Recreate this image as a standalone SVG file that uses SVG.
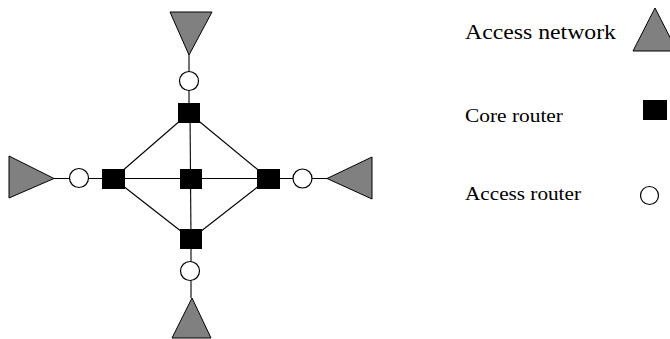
<svg xmlns="http://www.w3.org/2000/svg" width="670" height="339" viewBox="0 0 670 339">
<style>
.net{fill:#808080;stroke:#000;stroke-width:1}
.core{fill:#000;stroke:#000;stroke-width:1}
.acc{fill:#fff;stroke:#000;stroke-width:1.2}
.link{stroke:#000;stroke-width:1.1;fill:none}
.lbl{font-family:"Liberation Serif","Times New Roman",serif;fill:#000}
</style>
<rect width="670" height="339" fill="#fff"/>
<g id="connectors">
<line class="link" x1="189" y1="55" x2="189" y2="113"/>
<line class="link" x1="191" y1="239" x2="191" y2="298"/>
<line class="link" x1="54" y1="178.5" x2="327" y2="178.5"/>
<line class="link" x1="190" y1="113" x2="191" y2="239"/>
<line class="link" x1="189" y1="113" x2="113.5" y2="178.5"/>
<line class="link" x1="189" y1="113" x2="268.5" y2="178.5"/>
<line class="link" x1="191" y1="239" x2="113.5" y2="178.5"/>
<line class="link" x1="191" y1="239" x2="268.5" y2="178.5"/>
</g>
<g id="net-top"><polygon class="net" points="170,12 212,12 189,55"/></g>
<g id="net-bottom"><polygon class="net" points="172,338 211,338 192,298"/></g>
<g id="net-left"><polygon class="net" points="9,156 9,198 54,178.5"/></g>
<g id="net-right"><polygon class="net" points="372,157 372,199 327,178.5"/></g>
<g id="ar-top"><circle class="acc" cx="189" cy="81" r="9.5"/></g>
<g id="ar-bottom"><circle class="acc" cx="190" cy="271" r="9.5"/></g>
<g id="ar-left"><circle class="acc" cx="79" cy="178" r="9.5"/></g>
<g id="ar-right"><circle class="acc" cx="302.5" cy="178.5" r="9.5"/></g>
<g id="cr-top"><rect class="core" x="178.5" y="103.5" width="21" height="19"/></g>
<g id="cr-left"><rect class="core" x="102.5" y="169.5" width="22" height="19"/></g>
<g id="cr-center"><rect class="core" x="180.5" y="169.5" width="21" height="19"/></g>
<g id="cr-right"><rect class="core" x="257.5" y="169.5" width="22" height="19"/></g>
<g id="cr-bottom"><rect class="core" x="180.5" y="229.5" width="21" height="19"/></g>
<g id="legend-network">
<text class="lbl" x="465" y="39" font-size="21" textLength="151" lengthAdjust="spacingAndGlyphs">Access network</text>
<polygon class="net" points="655,8 677,51 633,51"/>
</g>
<g id="legend-core">
<text class="lbl" x="465" y="121.5" font-size="19" textLength="98" lengthAdjust="spacingAndGlyphs">Core router</text>
<rect class="core" x="643.5" y="100.5" width="23" height="19"/>
</g>
<g id="legend-access">
<text class="lbl" x="465" y="200" font-size="19" textLength="116" lengthAdjust="spacingAndGlyphs">Access router</text>
<circle class="acc" cx="649.5" cy="195.5" r="9"/>
</g>
</svg>
